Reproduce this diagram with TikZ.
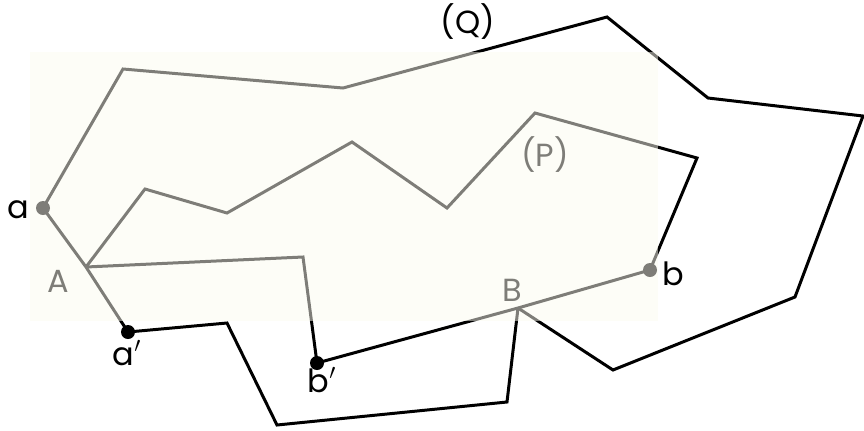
\documentclass[tikz,border=0pt]{standalone}
\usepackage{fontspec}
\setmainfont{Poppins}
\usetikzlibrary{positioning}
\definecolor{paper}{HTML}{FCFBF0}

\begin{document}
\begin{tikzpicture}[x=0.5pt, y=-0.5pt,
  edge/.style={line width=1.5pt, line join=miter},
  dot/.style={circle, fill, inner sep=0pt, minimum size=7pt},
  lbl/.style={font=\fontsize{16}{18}\selectfont, inner sep=1pt},
]
\useasboundingbox (0,0) rectangle (864,430);

% ---- end points and crossings ----
\node[dot] (a)  at (43,208)  {};
\node[dot] (b)  at (650,270) {};
\node[dot] (a2) at (128,332) {};
\node[dot] (b2) at (317,363) {};
\coordinate (A) at (86,267);
\coordinate (B) at (518,308);

% ---- path Q (outer) ----
\coordinate (q1) at (123,69);
\coordinate (q2) at (343,88);
\coordinate (q3) at (607,17);
\coordinate (q4) at (708,98);
\coordinate (q5) at (863,116);
\coordinate (q6) at (795,297);
\coordinate (q7) at (613,370);
\draw[edge] (a.center) -- (q1) -- (q2) -- (q3) -- (q4) -- (q5)
  -- (q6) -- (q7) -- (B);

% ---- path P (inner) ----
\coordinate (p1) at (145,189);
\coordinate (p2) at (227,213);
\coordinate (p3) at (352,142);
\coordinate (p4) at (447,208);
\coordinate (p5) at (535,113);
\coordinate (p6) at (697,158);
\draw[edge] (A) -- (p1) -- (p2) -- (p3) -- (p4) -- (p5) -- (p6)
  -- (b.center);

% ---- lower paths ----
\coordinate (r1) at (303,257);
\coordinate (s1) at (227,323);
\coordinate (s2) at (277,425);
\coordinate (s3) at (507,402);
\draw[edge] (a.center) -- (A) -- (a2.center);
\draw[edge] (A) -- (r1) -- (b2.center) -- (B) -- (b.center);
\draw[edge] (a2.center) -- (s1) -- (s2) -- (s3) -- (B);

% ---- labels ----
\node[lbl] at (18,210)            (la)  {a};
\node[lbl] at (58,281)            (lA)  {A};
\node[lbl] at (127,353)           (la2) {a$'$};
\node[lbl] at (322,380)           (lb2) {b$'$};
\node[lbl] at (512,290)           (lB)  {B};
\node[lbl] at (673,274)           (lb)  {b};
\node[lbl] at (545,155)           (lP)  {(P)};
\node[lbl] at (468,22)            (lQ)  {(Q)};

% ---- shaded sheet over the left part ----
\fill[paper, fill opacity=0.5] (30,52) rectangle (658,321);

\end{tikzpicture}
\end{document}
